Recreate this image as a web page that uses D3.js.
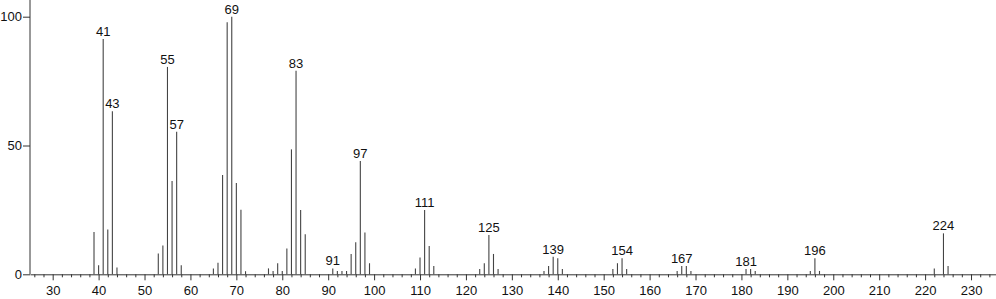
<!DOCTYPE html>
<html>
<head>
<meta charset="utf-8">
<script src="https://cdn.jsdelivr.net/npm/d3@7"></script>
<style>
  body { margin: 0; background: #fff; }
  svg { display: block; font-family: "Liberation Sans", Arial, sans-serif; }
</style>
</head>
<body>
<div id="chart"></div>
<script>
const mz = [39, 40, 41, 42, 43, 44, 53, 54, 55, 56, 57, 58, 65, 66, 67, 68, 69, 70, 71, 72,
  77, 78, 79, 80, 81, 82, 83, 84, 85, 91, 92, 93, 94, 95, 96, 97, 98, 99,
  109, 110, 111, 112, 113, 123, 124, 125, 126, 127, 137, 138, 139, 140, 141,
  152, 153, 154, 155, 166, 167, 168, 169, 181, 182, 183, 195, 196, 197, 222, 224, 225];
const intensity = [16.4, 3.5, 91.3, 17.4, 63.3, 2.6, 8.1, 11.2, 80.5, 36.2, 55.3, 3.5, 2.3, 4.5, 38.5, 97.8, 100, 35.4, 25.1, 1.2,
  2.3, 1.3, 4.3, 1.3, 10, 48.5, 79, 25, 15.5, 2.3, 1.3, 1.3, 1.3, 7.9, 12.4, 44, 16.2, 4.3,
  2.3, 6.5, 25, 11, 3.2, 2.1, 4.3, 15.3, 7.9, 2.1, 1.3, 3.2, 6.8, 6.2, 2.1,
  2.1, 4.3, 6.2, 2.1, 1.3, 3.2, 3.2, 1.3, 2.1, 2.1, 1.3, 1.3, 6.2, 1.3, 2.3, 15.9, 3.2];
const labeled = [41, 43, 55, 57, 69, 83, 91, 97, 111, 125, 139, 154, 167, 181, 196, 224];
const xTicks = d3.range(30, 231, 10);
const yTicks = [0, 50, 100];

const width = 996, height = 299;

const svg = d3.select("#chart").append("svg")
  .attr("width", width)
  .attr("height", height);

const x = d3.scaleLinear().domain([25.06, 235.44]).range([30, 996]);
const y = d3.scaleLinear().domain([0, 100]).range([274.3, 16.7]);

const peaks = mz.map((m, i) => ({ m: m, v: intensity[i] }));

// barres du spectre
svg.append("g")
  .selectAll("line")
  .data(peaks)
  .enter()
  .append("line")
  .attr("x1", d => x(d.m))
  .attr("x2", d => x(d.m))
  .attr("y1", y(0))
  .attr("y2", d => y(d.v))
  .attr("stroke", "#444")
  .attr("stroke-width", 1.1);

// étiquettes des pics
svg.append("g")
  .selectAll("text")
  .data(peaks.filter(d => labeled.includes(d.m)))
  .enter()
  .append("text")
  .attr("x", d => x(d.m))
  .attr("y", d => y(d.v) - 3)
  .attr("text-anchor", "middle")
  .attr("font-size", 13)
  .attr("fill", "#111")
  .text(d => d.m);

// petites graduations
const minor = d3.range(26, 235, 2).filter(v => v % 10 !== 0);
svg.append("g")
  .attr("transform", "translate(0," + y(0) + ")")
  .call(d3.axisBottom(x).tickValues(minor).tickSize(3).tickFormat(""))
  .call(g => g.select(".domain").remove())
  .call(g => g.selectAll("line").attr("stroke", "#333"));

// axe X
svg.append("g")
  .attr("transform", "translate(0," + y(0) + ")")
  .call(d3.axisBottom(x).tickValues(xTicks).tickSize(6).tickPadding(5).tickSizeOuter(0))
  .call(g => g.select(".domain").attr("stroke", "#333"))
  .call(g => g.selectAll("line").attr("stroke", "#333"))
  .call(g => g.selectAll("text").attr("font-size", 13).attr("fill", "#111")
    .attr("font-family", "Liberation Sans, Arial, sans-serif"));

// axe Y
svg.append("g")
  .attr("transform", "translate(30,0)")
  .call(d3.axisLeft(y).tickValues(yTicks).tickSize(7).tickPadding(1).tickSizeOuter(0))
  .call(g => g.select(".domain").attr("d", "M0,0V" + y(0)).attr("stroke", "#333"))
  .call(g => g.selectAll("line").attr("stroke", "#333"))
  .call(g => g.selectAll("text").attr("font-size", 13).attr("fill", "#111")
    .attr("font-family", "Liberation Sans, Arial, sans-serif"));
</script>
</body>
</html>
